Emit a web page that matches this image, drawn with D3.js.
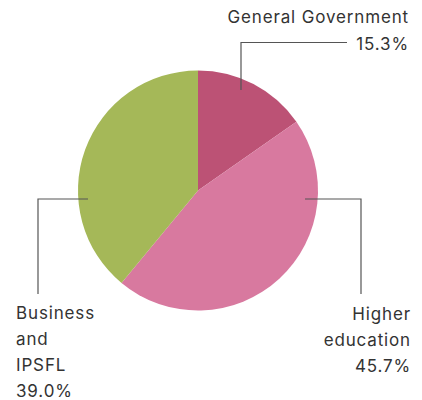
<!DOCTYPE html>
<html>
<head>
<meta charset="utf-8">
<script src="https://cdn.jsdelivr.net/npm/d3@7"></script>
<style>
  html, body { margin: 0; padding: 0; background: #fff; }
  svg text { font-family: "Inter", "Noto Sans", sans-serif; font-size: 17px; fill: #333; letter-spacing: 0.85px; }
</style>
</head>
<body>
<svg id="chart" width="422" height="400"></svg>
<script>
// R&D expenditure by sector of performance (share of total)
const sectors = ["General Government", "Higher education", "Business and IPSFL"];
const shares = [15.3, 45.7, 39.0];
const sectorColors = ["#bc5275", "#d8799f", "#a5b858"];
const labelLines = [["General Government", "15.3%"], ["Higher", "education", "45.7%"], ["Business", "and", "IPSFL", "39.0%"]];

const svg = d3.select("#chart");
const cx = 198, cy = 190.5, r = 120;

const pie = d3.pie().sort(null).value(d => d.value);
const arcs = pie(sectors.map((s, i) => ({ name: s, value: shares[i], color: sectorColors[i] })));
const arc = d3.arc().innerRadius(0).outerRadius(r);

const g = svg.append("g").attr("transform", `translate(${cx},${cy})`);
g.selectAll("path").data(arcs).enter().append("path")
  .attr("d", arc)
  .attr("fill", d => d.data.color);

// Leader lines: start inside each slice, run out to the label
const lineColor = "#555";
function leader(points) {
  svg.append("polyline")
    .attr("points", points.map(p => p.join(",")).join(" "))
    .attr("fill", "none")
    .attr("stroke", lineColor)
    .attr("stroke-width", 1.2);
}
leader([[241, 90], [241, 42.5], [347, 42.5]]);
leader([[305, 199], [361, 199], [361, 294]]);
leader([[88, 199], [38, 199], [38, 294]]);

// Labels (end-anchored lines are nudged right to absorb trailing letter-spacing)
function label(lines, x, y0, anchor, step) {
  const t = svg.append("text").attr("text-anchor", anchor);
  lines.forEach((ln, i) => {
    t.append("tspan").attr("x", x).attr("y", y0 + i * step).text(ln);
  });
}
label(labelLines[0], 409, 23, "end", 27);
label(labelLines[1], 411, 320, "end", 26);
label(labelLines[2], 16, 319, "start", 26);
</script>
</body>
</html>
